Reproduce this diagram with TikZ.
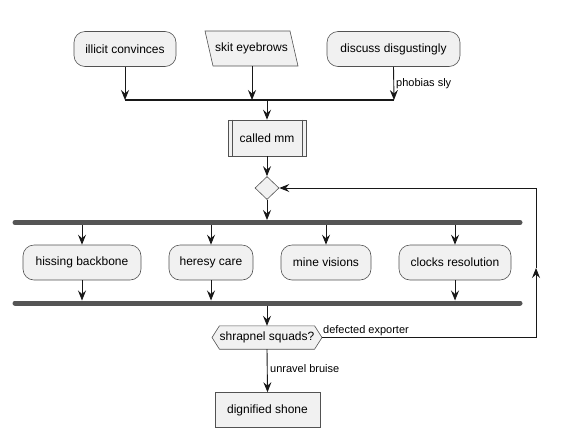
\documentclass[tikz,border=0pt]{standalone}
\usepackage{fontspec}
\setmainfont{Liberation Sans}
\usetikzlibrary{shapes.geometric,arrows.meta}

\definecolor{boxfill}{HTML}{F1F1F1}
\definecolor{boxline}{HTML}{181818}
\definecolor{barcol}{HTML}{555555}

\begin{document}
\begin{tikzpicture}[x=1pt, y=-1pt,
    act/.style={draw=boxline!75, fill=boxfill, line width=0.6pt, rounded corners=11pt,
      minimum height=35pt, inner sep=0pt, font=\fontsize{12}{14}\selectfont},
    plain/.style={draw=boxline!75, fill=boxfill, line width=0.6pt,
      minimum height=35pt, inner sep=0pt, font=\fontsize{12}{14}\selectfont},
    txt/.style={inner sep=0pt, font=\fontsize{12}{14}\selectfont},
    lbl/.style={inner sep=0pt, anchor=west, font=\fontsize{11}{13}\selectfont},
    flow/.style={draw=boxline, line width=0.9pt, -{Stealth[length=10pt,width=8pt,inset=3.5pt]}},
    line/.style={draw=boxline, line width=0.9pt},
    bar/.style={draw=barcol, line width=5pt, line cap=round}]
  \useasboundingbox (0,0) rectangle (561,437);

  \node (ic) at (125,49) [act, minimum width=102pt] {illicit convinces};
  \filldraw[draw=boxline!75, fill=boxfill, line width=0.6pt]
    (205,31) -- (290,31) -- (298,66) -- (213,66) -- cycle;
  \node (se) at (251.5,48.5) [txt, minimum width=85pt, minimum height=35pt] {skit eyebrows};
  \node (dd) at (393.5,49) [act, minimum width=133pt] {discuss disgustingly};

  \coordinate (m1) at (125,100);
  \coordinate (m2) at (252,100);
  \coordinate (m3) at (394,100);
  \coordinate (m0) at (267,100);
  \draw [flow] (ic.south) -- (m1);
  \draw [flow] (252,66) -- (m2);
  \draw [flow] (dd.south) -- (m3);
  \node at (396,84) [lbl] {phobias sly};
  \draw [line, line width=1.6pt] (m1) -- (m3);

  \node (cm) at (267,138) [plain, minimum width=78pt, minimum height=36pt] {called mm};
  \draw [draw=boxline!75, line width=0.6pt] ([xshift=4.5pt]cm.north west) -- ([xshift=4.5pt]cm.south west);
  \draw [draw=boxline!75, line width=0.6pt] ([xshift=-4.5pt]cm.north east) -- ([xshift=-4.5pt]cm.south east);
  \draw [flow] (m0) -- (cm.north);

  \node (dm) at (267,188) [diamond, draw=boxline!75, fill=boxfill, line width=0.6pt,
    inner sep=0pt, minimum width=24pt, minimum height=23pt] {};
  \draw [flow] (cm.south) -- (dm.north);

  % fork
  \draw [bar] (15,222.5) -- (520,222.5);
  \coordinate (f0) at (267,220);
  \draw [flow] (dm.south) -- (f0);

  \node (hb) at (82,262.5) [act, minimum width=118pt] {hissing backbone};
  \node (hc) at (211,262.5) [act, minimum width=84pt] {heresy care};
  \node (mv) at (326,262.5) [act, minimum width=90pt] {mine visions};
  \node (cr) at (455,262.5) [act, minimum width=112pt] {clocks resolution};

  \draw [flow] (82,225) -- (hb.north);
  \draw [flow] (211,225) -- (hc.north);
  \draw [flow] (326,225) -- (mv.north);
  \draw [flow] (455,225) -- (cr.north);

  % join
  \draw [bar] (15,303) -- (520,303);
  \draw [flow] (hb.south) -- (82,300.5);
  \draw [flow] (hc.south) -- (211,300.5);
  \draw [flow] (cr.south) -- (455,300.5);

  \node (sq) at (267,337.5) [txt, minimum width=92pt, minimum height=23pt] {shrapnel squads?};
  \filldraw[draw=boxline!75, fill=boxfill, line width=0.6pt]
    (sq.north west) -- (sq.north east) -- (322,337.5) -- (sq.south east)
    -- (sq.south west) -- (212,337.5) -- cycle;
  \node at (sq) [txt] {shrapnel squads?};
  \coordinate (sqe) at (322,337.5);
  \draw [flow] (267,305.5) -- (sq.north);

  % loop back
  \coordinate (l1) at (536,337.5);
  \coordinate (l2) at (536,268);
  \coordinate (l3) at (536,188);
  \draw [flow] (sqe) -- (l1) -- (l2);
  \draw [flow] (l2) -- (l3) -- (dm.east);
  \node at (323,331) [lbl] {defected exporter};

  \node (ds) at (267.5,410) [plain, minimum width=105pt] {dignified shone};
  \draw [flow] (sq.south) -- (ds.north);
  \node at (270,369) [lbl] {unravel bruise};
\end{tikzpicture}
\end{document}
